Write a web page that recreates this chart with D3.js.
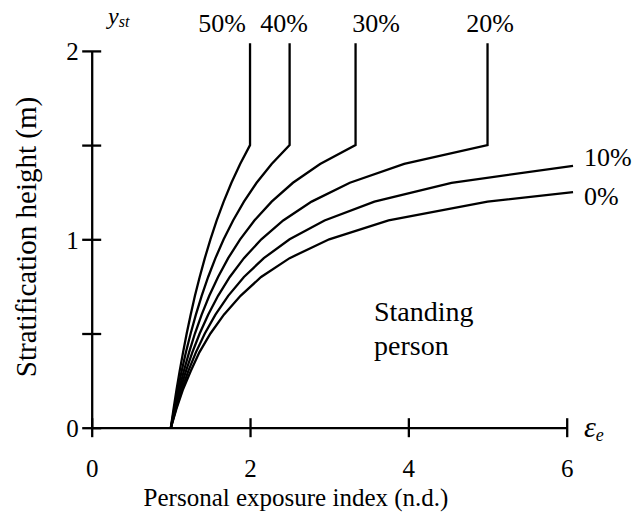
<!DOCTYPE html>
<html>
<head>
<meta charset="utf-8">
<script src="https://cdn.jsdelivr.net/npm/d3@7"></script>
<style>
  text, tspan { font-family: 'Liberation Serif', 'Times New Roman', Tinos, serif; }
</style>
</head>
<body style="margin:0">
<script>
// stratification heights (m) at which the curves were read
const heights = [0, 0.1, 0.2, 0.3, 0.4, 0.5, 0.6, 0.7, 0.8, 0.9, 1.0, 1.1, 1.2, 1.3, 1.4, 1.5];

// personal exposure index at the heights above
const p0  = [1, 1.07, 1.15, 1.25, 1.36, 1.50, 1.67, 1.88, 2.14, 2.50, 3.00, 3.75, 5.00];
const p10 = [1, 1.064, 1.136, 1.22, 1.316, 1.429, 1.563, 1.724, 1.923, 2.174, 2.50, 2.941, 3.571, 4.545];
const p20 = [1, 1.056, 1.119, 1.19, 1.271, 1.364, 1.471, 1.596, 1.744, 1.923, 2.143, 2.419, 2.778, 3.261, 3.947, 5.0];
const p30 = [1, 1.049, 1.103, 1.163, 1.23, 1.304, 1.389, 1.485, 1.596, 1.724, 1.875, 2.055, 2.273, 2.542, 2.885, 3.333];
const p40 = [1, 1.042, 1.087, 1.136, 1.19, 1.25, 1.316, 1.389, 1.471, 1.563, 1.667, 1.786, 1.923, 2.083, 2.273, 2.5];
const p50 = [1, 1.034, 1.071, 1.111, 1.154, 1.2, 1.25, 1.304, 1.364, 1.429, 1.5, 1.579, 1.667, 1.765, 1.875, 2.0];

// where the two open curves leave the plot at the right edge [index, height]
const p0End = [6.08, 1.25];
const p10End = [6.08, 1.39];
const topHeight = 2.04; // vertical parts run up to here

const seriesNames = ["0%", "10%", "20%", "30%", "40%", "50%"];
const xTicks = [0, 2, 4, 6];
const yTicks = [0, 0.5, 1, 1.5, 2];
const yLabels = [0, 1, 2];

drawSvg();

function drawSvg() {
  const w = 637;
  const h = 521;

  const xScale = d3.scaleLinear()
    .domain([0, 6])
    .range([91.7, 566.7]);

  const yScale = d3.scaleLinear()
    .domain([0, 2])
    .range([427.7, 50.9]);

  const svg = d3.select("body")
    .append("svg")
    .attr("width", w)
    .attr("height", h);

  // build point lists for every curve
  const toPts = (vals) => vals.map((v, i) => [v, heights[i]]);
  const curves = [
    toPts(p0).concat([p0End]),
    toPts(p10).concat([p10End]),
    toPts(p20).concat([[p20[p20.length - 1], topHeight]]),
    toPts(p30).concat([[p30[p30.length - 1], topHeight]]),
    toPts(p40).concat([[p40[p40.length - 1], topHeight]]),
    toPts(p50).concat([[p50[p50.length - 1], topHeight]])
  ];

  const line = d3.line()
    .x((d) => xScale(d[0]))
    .y((d) => yScale(d[1]));

  svg.selectAll("path.curve")
    .data(curves)
    .enter()
    .append("path")
    .classed("curve", true)
    .attr("d", line)
    .attr("fill", "none")
    .attr("stroke", "#000")
    .attr("stroke-width", 2.3)
    .attr("stroke-linejoin", "miter");

  // axes with ticks crossing the axis line
  const xAxis = d3.axisBottom(xScale)
    .tickValues(xTicks)
    .tickSizeInner(9.5)
    .tickSizeOuter(0)
    .tickFormat(d3.format("d"));

  const yAxis = d3.axisLeft(yScale)
    .tickValues(yTicks)
    .tickSizeInner(9.5)
    .tickSizeOuter(0)
    .tickFormat((d) => yLabels.includes(d) ? d : "");

  const gx = svg.append("g")
    .attr("transform", "translate(0," + yScale(0) + ")")
    .call(xAxis);

  const gy = svg.append("g")
    .attr("transform", "translate(" + xScale(0) + ",0)")
    .call(yAxis);

  [gx, gy].forEach((g) => {
    g.attr("font-family", null);
    g.select(".domain").attr("stroke", "#000").attr("stroke-width", 2.3);
    g.selectAll(".tick line").attr("stroke", "#000").attr("stroke-width", 2.3);
    g.selectAll(".tick text").attr("fill", "#000").attr("font-size", 25);
  });

  gx.selectAll(".tick line").attr("y1", -9.5).attr("y2", 9.5);
  gx.selectAll(".tick text").attr("y", 49).attr("dy", 0);

  gy.selectAll(".tick line").attr("x1", -9.5).attr("x2", 9.5);
  gy.selectAll(".tick text").attr("x", -13).attr("dy", "0.35em");

  // axis titles
  svg.append("text")
    .attr("x", 296)
    .attr("y", 506)
    .attr("text-anchor", "middle")
    .attr("font-size", 25)
    .text("Personal exposure index (n.d.)");

  svg.append("text")
    .attr("transform", "translate(36,237) rotate(-90)")
    .attr("text-anchor", "middle")
    .attr("font-size", 29)
    .text("Stratification height (m)");

  // axis symbols
  const ySym = svg.append("text")
    .attr("x", 108)
    .attr("y", 24)
    .attr("font-size", 24)
    .attr("font-style", "italic");
  ySym.append("tspan").text("y");
  ySym.append("tspan").attr("dy", 3).attr("font-size", 16).text("st");

  const eSym = svg.append("text")
    .attr("x", 584)
    .attr("y", 437)
    .attr("font-size", 30)
    .attr("font-style", "italic");
  eSym.append("tspan").text("\u03b5");
  eSym.append("tspan").attr("dy", 4).attr("font-size", 18).text("e");

  // curve labels
  const labelPos = [
    { x: 584, y: 205, anchor: "start" },
    { x: 584, y: 166, anchor: "start" },
    { x: 490, y: 32, anchor: "middle" },
    { x: 376, y: 32, anchor: "middle" },
    { x: 284, y: 32, anchor: "middle" },
    { x: 222, y: 32, anchor: "middle" }
  ];

  svg.selectAll("text.series")
    .data(seriesNames)
    .enter()
    .append("text")
    .classed("series", true)
    .attr("x", (d, i) => labelPos[i].x)
    .attr("y", (d, i) => labelPos[i].y)
    .attr("text-anchor", (d, i) => labelPos[i].anchor)
    .attr("font-size", 26)
    .text((d) => d);

  // annotation
  const note = svg.append("text")
    .attr("font-size", 28);
  note.append("tspan").attr("x", 374).attr("y", 321).text("Standing");
  note.append("tspan").attr("x", 374).attr("y", 355).text("person");
}
</script>
</body>
</html>
